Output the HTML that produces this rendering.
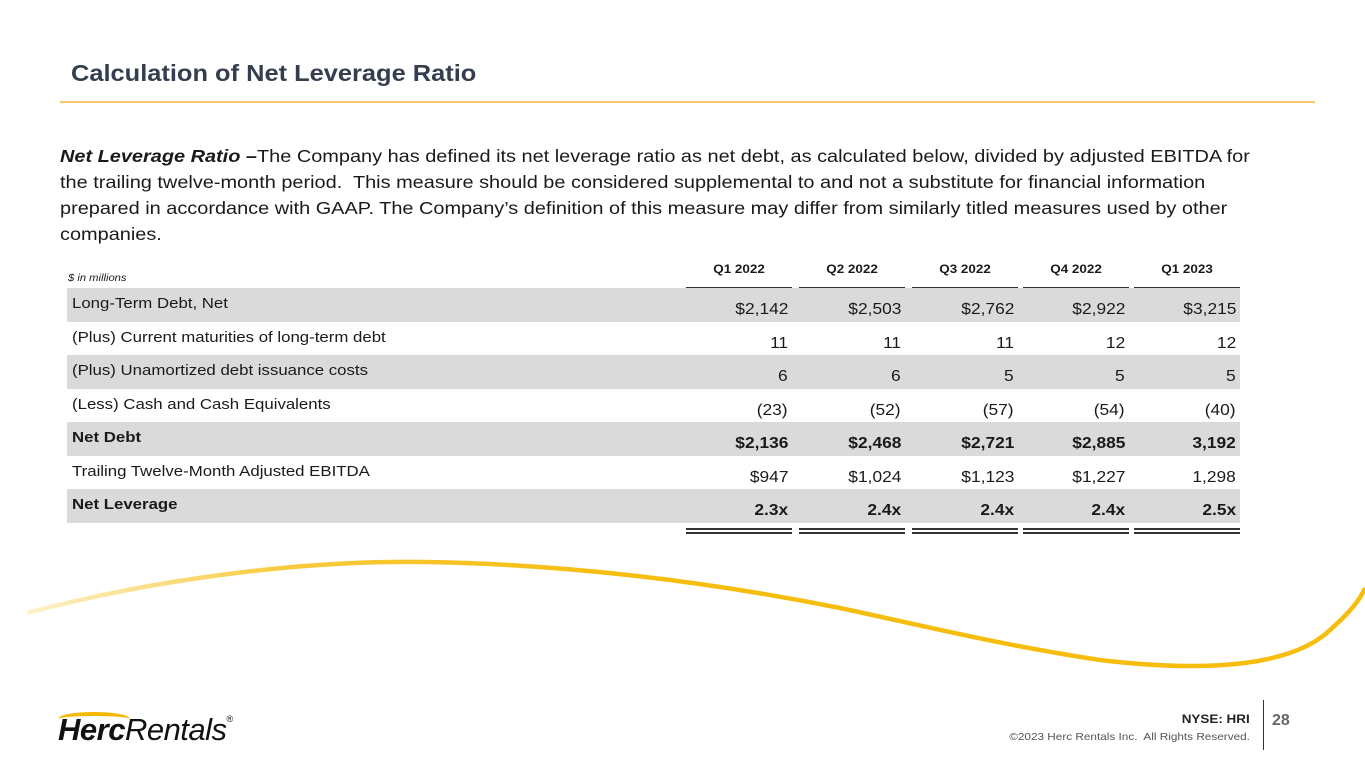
<!DOCTYPE html>
<html><head><meta charset="utf-8"><style>
body{margin:0;width:1365px;height:769px;background:#fff;position:relative;overflow:hidden;font-family:"Liberation Sans",Arimo,Arial,Helvetica,sans-serif;color:#1a1a1a}
.abs{position:absolute}
.sx{display:inline-block;transform:scaleX(1.12);transform-origin:left center;white-space:nowrap}
.sxr{display:inline-block;transform:scaleX(1.12);transform-origin:right center;white-space:nowrap}
.title{left:71px;top:60px;font-size:23px;font-weight:bold;color:#353e4f}
.title .sx{transform:scaleX(1.105)}
.rule{left:60px;top:101px;width:1255px;height:2px;background:#f8c86e}
.para{left:60px;top:143px;font-size:17.4px;line-height:26px;color:#1a1a1a;white-space:nowrap;transform:scaleX(1.145);transform-origin:left top}
.row{position:absolute;left:67px;width:1173px;height:33.5px}
.row.g{background:#dadada}
.lab{position:absolute;left:5px;top:7px;font-size:15px}
.val{position:absolute;width:106px;text-align:right;top:13px;font-size:15.5px}
.b{font-weight:bold}
.hdr{position:absolute;top:262px;width:106px;text-align:center;font-size:12px;font-weight:bold}
.ul{position:absolute;height:2px;background:#333;width:106px}
.foot1{right:115px;top:712px;font-size:12px;font-weight:bold;color:#222}
.foot2{right:115px;top:731px;font-size:10.5px;color:#555}
</style></head><body>
<div class="abs title"><span class="sx">Calculation of Net Leverage Ratio</span></div>
<div class="abs rule"></div>
<div class="abs para"><b><i>Net Leverage Ratio –</i></b>The Company has defined its net leverage ratio as net debt, as calculated below, divided by adjusted EBITDA for<br>the trailing twelve-month period.&nbsp; This measure should be considered supplemental to and not a substitute for financial information<br>prepared in accordance with GAAP. The Company’s definition of this measure may differ from similarly titled measures used by other<br>companies.</div>
<div class="abs" style="left:68px;top:273px;font-size:10px;font-style:italic"><span class="sx">$ in millions</span></div>
<div id="tbl"></div>
<svg class="abs" style="left:0;top:0" width="1365" height="769">
<defs><linearGradient id="sg" gradientUnits="userSpaceOnUse" x1="20" y1="0" x2="1365" y2="0"><stop offset="0" stop-color="#fdf3d0"/><stop offset="0.2" stop-color="#f8ca3c"/><stop offset="0.45" stop-color="#f6bd0d"/><stop offset="1" stop-color="#f6bd0d"/></linearGradient></defs>
<path d="M27,613 C150,580 300,560 424,562 C560,564 700,580 840,608 C920,625 1000,645 1100,660 C1200,672 1290,668 1330,630 C1350,612 1360,600 1365,588" fill="none" stroke="url(#sg)" stroke-width="4.5"/>
</svg>
<div class="abs" style="left:58px;top:712px;width:72px;height:10px;border-top:4px solid #f5b800;border-radius:50% 50% 0 0"></div>
<div class="abs" style="left:58px;top:712px;font-size:31px;font-style:italic;color:#111;letter-spacing:-0.5px"><b>Herc</b><span style="font-weight:normal">Rentals</span><sup style="font-size:9px;font-style:normal;vertical-align:18px">®</sup></div>
<div class="abs foot1"><span class="sxr">NYSE: HRI</span></div>
<div class="abs foot2"><span class="sxr">©2023 Herc Rentals Inc.&nbsp; All Rights Reserved.</span></div>
<div class="abs" style="left:1263px;top:700px;width:1px;height:50px;background:#333"></div>
<div class="abs" style="left:1272px;top:712px;font-size:16px;font-weight:bold;color:#666">28</div>
<script>
const quarters=["Q1 2022","Q2 2022","Q3 2022","Q4 2022","Q1 2023"];
const rowLabels=["Long-Term Debt, Net","(Plus) Current maturities of long-term debt","(Plus) Unamortized debt issuance costs","(Less) Cash and Cash Equivalents","Net Debt","Trailing Twelve-Month Adjusted EBITDA","Net Leverage"];
const rowValues=[
["$2,142","$2,503","$2,762","$2,922","$3,215"],
["11","11","11","12","12"],
["6","6","5","5","5"],
["(23)","(52)","(57)","(54)","(40)"],
["$2,136","$2,468","$2,721","$2,885","3,192"],
["$947","$1,024","$1,123","$1,227","1,298"],
["2.3x","2.4x","2.4x","2.4x","2.5x"]];
const boldRows=[4,6];
const t=document.getElementById('tbl');
const colX=[686,799,912,1023,1134];
quarters.forEach((q,i)=>{
 const h=document.createElement('div');h.className='hdr';h.style.left=colX[i]+'px';
 h.innerHTML='<span style="display:inline-block;transform:scaleX(1.12)">'+q+'</span>';
 
 
 t.appendChild(h);
 [287,421.5,488.5,528,532].forEach(y=>{const u=document.createElement('div');u.className='ul';u.style.left=colX[i]+'px';u.style.top=y+'px';
 
 
 t.appendChild(u);});
});
rowLabels.forEach((l,r)=>{
 const row=document.createElement('div');row.className='row'+(r%2==0?' g':'');row.style.top=(288+r*33.5)+'px';
 
 
 const b=boldRows.includes(r)?' b':'';
 const lb=document.createElement('div');lb.className='lab'+b;
 const ls=document.createElement('span');ls.className='sx';ls.textContent=l;lb.appendChild(ls);
 
 
 row.appendChild(lb);
 rowValues[r].forEach((v,i)=>{const c=document.createElement('div');c.className='val'+b;c.style.left=(colX[i]-67-4)+'px';
 const vs=document.createElement('span');vs.className='sxr';vs.textContent=v;c.appendChild(vs);
 
 
 row.appendChild(c);});
 t.appendChild(row);
});
</script>
</body></html>
